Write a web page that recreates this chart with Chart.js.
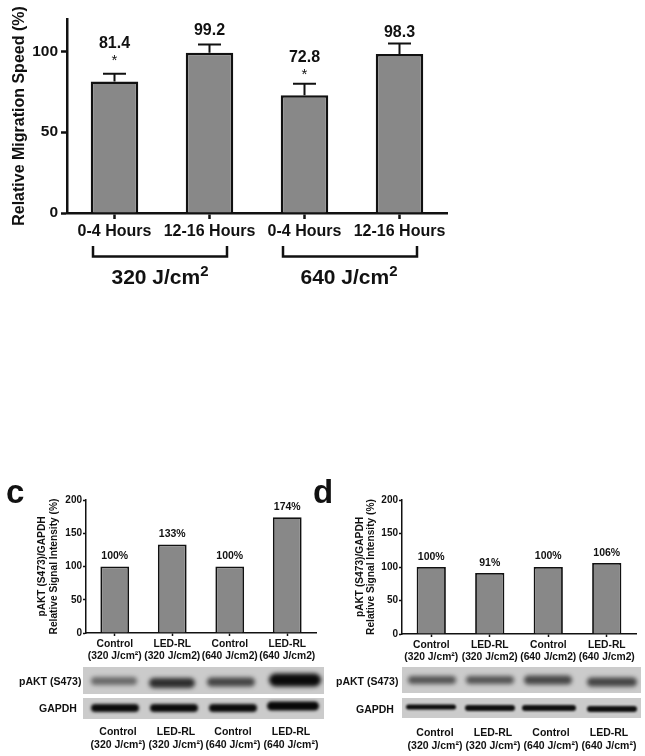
<!DOCTYPE html>
<html>
<head>
<meta charset="utf-8">
<script src="https://cdn.jsdelivr.net/npm/chart.js@4"></script>
<style>
  html, body { margin: 0; padding: 0; background: #fff; }
  body { width: 645px; height: 756px; position: relative; overflow: hidden; font-family: "Liberation Sans", Arial, sans-serif; color: #111; }
  canvas { position: absolute; }
  .t { position: absolute; font-weight: bold; white-space: nowrap; line-height: 1; }
  .c { transform: translateX(-50%); text-align: center; }
  .group { font-size: 21px; top: 266px; }
  .group sup { font-size: 15px; line-height: 0; vertical-align: 8px; }
  .letter { font-size: 33px; top: 475px; }
  .blot { font-size: 10.5px; }
  .small { font-size: 10.5px; line-height: 12.5px; }
</style>
</head>
<body>
<canvas id="blots" width="645" height="756" style="left:0;top:0"></canvas>
<canvas id="migration" width="460" height="262" style="left:0;top:0"></canvas>
<canvas id="panelC" width="330" height="182" style="left:0;top:488px"></canvas>
<canvas id="panelD" width="310" height="182" style="left:335px;top:488px"></canvas>

<div class="t group c" style="left:160px">320 J/cm<sup>2</sup></div>
<div class="t group c" style="left:349px">640 J/cm<sup>2</sup></div>
<div class="t letter" style="left:6px">c</div>
<div class="t letter" style="left:313px">d</div>

<div class="t blot" style="left:19px;top:676px">pAKT (S473)</div>
<div class="t blot" style="left:39px;top:703px">GAPDH</div>
<div class="t blot" style="left:336px;top:676px">pAKT (S473)</div>
<div class="t blot" style="left:356px;top:704px">GAPDH</div>

<div class="t small c" style="left:118px;top:725px">Control<br>(320 J/cm²)</div>
<div class="t small c" style="left:176px;top:725px">LED-RL<br>(320 J/cm²)</div>
<div class="t small c" style="left:233px;top:725px">Control<br>(640 J/cm²)</div>
<div class="t small c" style="left:291px;top:725px">LED-RL<br>(640 J/cm²)</div>
<div class="t small c" style="left:435px;top:726px">Control<br>(320 J/cm²)</div>
<div class="t small c" style="left:493px;top:726px">LED-RL<br>(320 J/cm²)</div>
<div class="t small c" style="left:551px;top:726px">Control<br>(640 J/cm²)</div>
<div class="t small c" style="left:609px;top:726px">LED-RL<br>(640 J/cm²)</div>

<script>
// top chart data
const migrationLabels = ['0-4 Hours', '12-16 Hours', '0-4 Hours', '12-16 Hours'];
const migrationValues = [81.4, 99.2, 72.8, 98.3];
const migrationUpper = [86.2, 104.2, 80, 104.8];
const migrationText = ['81.4', '99.2', '72.8', '98.3'];
const migrationStars = [true, false, true, false];

// blot charts data
const panelCLabels = [['Control', '(320 J/cm²)'], ['LED-RL', '(320 J/cm2)'], ['Control', '(640 J/cm2)'], ['LED-RL', '(640 J/cm2)']];
const panelDLabels = panelCLabels;
const panelCValues = [100, 133, 100, 174];
const panelDValues = [100, 91, 100, 106];
const panelCText = ['100%', '133%', '100%', '174%'];
const panelDText = ['100%', '91%', '100%', '106%'];

const GRAY = '#888888';
const INK = '#111111';

// whiskers, value labels, asterisks and the group brackets
const barNotes = {
  id: 'barNotes',
  afterDatasetsDraw(chart, args, opts) {
    const ctx = chart.ctx;
    const x = chart.scales.x;
    const y = chart.scales.y;
    ctx.save();
    ctx.strokeStyle = INK;
    ctx.fillStyle = INK;
    ctx.textAlign = 'center';
    ctx.textBaseline = 'middle';
    opts.text.forEach((txt, i) => {
      const px = x.getPixelForValue(i);
      let top = y.getPixelForValue(chart.data.datasets[0].data[i]);
      if (opts.upper) {
        const cap = y.getPixelForValue(opts.upper[i]);
        ctx.lineWidth = 2;
        ctx.beginPath();
        ctx.moveTo(px, top);
        ctx.lineTo(px, cap);
        ctx.moveTo(px - opts.capHalf, cap);
        ctx.lineTo(px + opts.capHalf, cap);
        ctx.stroke();
        top = cap;
      }
      ctx.font = opts.font;
      ctx.fillText(txt, px, top - opts.gap[i]);
      if (opts.stars && opts.stars[i]) {
        ctx.font = '15px "Liberation Sans"';
        ctx.fillText('*', px, top - opts.gap[i] + 17);
      }
    });
    if (opts.brackets) {
      ctx.lineWidth = 2.5;
      opts.brackets.forEach(b => {
        const x0 = x.getPixelForValue(b[0]) - 21.5;
        const x1 = x.getPixelForValue(b[1]) + 17.5;
        ctx.beginPath();
        ctx.moveTo(x0, 246);
        ctx.lineTo(x0, 256.5);
        ctx.lineTo(x1, 256.5);
        ctx.lineTo(x1, 246);
        ctx.stroke();
      });
    }
    ctx.restore();
  }
};

function makeChart(id, cfg) {
  return new Chart(document.getElementById(id), {
    type: 'bar',
    data: {
      labels: cfg.labels,
      datasets: [{
        data: cfg.values,
        backgroundColor: GRAY,
        borderColor: INK,
        borderWidth: cfg.barBorder,
        barPercentage: 1,
        categoryPercentage: 0.5
      }]
    },
    options: {
      responsive: false,
      animation: false,
      layout: { padding: cfg.padding },
      plugins: {
        legend: { display: false },
        tooltip: { enabled: false },
        barNotes: cfg.notes
      },
      scales: {
        x: {
          afterFit: s => { s.height = cfg.xHeight; },
          border: { color: INK, width: cfg.axisWidth },
          grid: { offset: false, drawOnChartArea: false, tickLength: cfg.tickLength, tickColor: INK, tickWidth: cfg.axisWidth },
          ticks: { color: INK, font: cfg.xFont, padding: cfg.xPad, maxRotation: 0, autoSkip: false }
        },
        y: {
          min: 0,
          max: cfg.max,
          afterFit: s => { s.width = cfg.yWidth; },
          border: { color: INK, width: cfg.axisWidth },
          grid: { drawOnChartArea: false, tickLength: cfg.tickLength, tickColor: INK, tickWidth: cfg.axisWidth },
          ticks: { color: INK, font: cfg.yFont, padding: cfg.yPad, stepSize: 50, includeBounds: false },
          title: { display: true, text: cfg.title, color: INK, font: cfg.titleFont, padding: cfg.titlePad }
        }
      }
    },
    plugins: [barNotes]
  });
}

makeChart('migration', {
  labels: migrationLabels,
  values: migrationValues,
  max: 120,
  title: 'Relative Migration Speed (%)',
  titleFont: { family: 'Liberation Sans', size: 16, weight: 'bold' },
  titlePad: { top: 10, bottom: 0 },
  xFont: { family: 'Liberation Sans', size: 16, weight: 'bold' },
  yFont: { family: 'Liberation Sans', size: 15.5, weight: 'bold' },
  xPad: 3,
  yPad: 3,
  xHeight: 49,
  yWidth: 67,
  padding: { left: 0, top: 19, right: 13, bottom: 0 },
  barBorder: 2.5,
  axisWidth: 2.5,
  tickLength: 6,
  notes: {
    text: migrationText,
    upper: migrationUpper,
    stars: migrationStars,
    capHalf: 11.5,
    font: 'bold 16px "Liberation Sans"',
    gap: [30, 14, 26, 11],
    brackets: [[0, 1], [2, 3]]
  }
});

const smallBold = { family: 'Liberation Sans', size: 10.3, weight: 'bold', lineHeight: 1.18 };
const blotTitle = ['pAKT (S473)/GAPDH', 'Relative Signal Intensity (%)'];

makeChart('panelC', {
  labels: panelCLabels,
  values: panelCValues,
  max: 200,
  title: blotTitle,
  titleFont: { family: 'Liberation Sans', size: 10.2, weight: 'bold', lineHeight: 1.1 },
  titlePad: { top: 37, bottom: 0 },
  xFont: smallBold,
  yFont: { family: 'Liberation Sans', size: 10, weight: 'bold' },
  xPad: 2,
  yPad: 1,
  xHeight: 37,
  yWidth: 86,
  padding: { left: 0, top: 12, right: 14, bottom: 0 },
  barBorder: 1.8,
  axisWidth: 1.5,
  tickLength: 3,
  notes: { text: panelCText, font: 'bold 10.5px "Liberation Sans"', gap: [10, 10, 10, 10] }
});

makeChart('panelD', {
  labels: panelDLabels,
  values: panelDValues,
  max: 200,
  title: blotTitle,
  titleFont: { family: 'Liberation Sans', size: 10.2, weight: 'bold', lineHeight: 1.1 },
  titlePad: { top: 19.5, bottom: 0 },
  xFont: smallBold,
  yFont: { family: 'Liberation Sans', size: 10, weight: 'bold' },
  xPad: 2,
  yPad: 1,
  xHeight: 36,
  yWidth: 67,
  padding: { left: 0, top: 12, right: 9, bottom: 0 },
  barBorder: 1.8,
  axisWidth: 1.5,
  tickLength: 3,
  notes: { text: panelDText, font: 'bold 10.5px "Liberation Sans"', gap: [10, 10, 11, 10] }
});

// western blot strips, only a picture in the figure: plain canvas, no values behind it
const blots = document.getElementById('blots').getContext('2d');
function strip(x, y, w, h, bands) {
  blots.fillStyle = '#cbcbcb';
  blots.fillRect(x, y, w, h);
  blots.save();
  blots.beginPath();
  blots.rect(x, y, w, h);
  blots.clip();
  bands.forEach(b => {
    blots.filter = 'blur(' + b[4] + 'px)';
    blots.fillStyle = b[5];
    blots.beginPath();
    blots.roundRect(b[0] - b[2], b[1] - b[3], b[2] * 2, b[3] * 2, b[3]);
    blots.fill();
  });
  blots.restore();
  blots.filter = 'none';
}
strip(83, 667, 241, 27, [
  [114, 681, 23, 4, 2, '#6a6a6a'],
  [172, 683, 23, 5, 2, '#2e2e2e'],
  [231, 682, 24, 4.5, 2, '#454545'],
  [295, 680, 26, 6.5, 2, '#0a0a0a']
]);
strip(83, 698, 241, 21, [
  [115, 708, 24, 4, 1.6, '#0c0c0c'],
  [174, 708, 24, 4, 1.6, '#0c0c0c'],
  [233, 708, 24, 4, 1.6, '#0c0c0c'],
  [293, 706, 26, 4.5, 1.6, '#080808']
]);
strip(402, 667, 239, 26, [
  [432, 680, 24, 4, 2, '#555'],
  [490, 680, 24, 4, 2, '#555'],
  [548, 680, 24, 4.5, 2, '#474747'],
  [612, 682, 25, 4.5, 2, '#454545']
]);
strip(402, 698, 239, 20, [
  [431, 707, 25, 2.5, 1.1, '#0a0a0a'],
  [490, 708, 25, 3, 1.1, '#0f0f0f'],
  [549, 708, 27, 3, 1.1, '#0f0f0f'],
  [612, 709, 25, 3, 1.1, '#0f0f0f']
]);
</script>
</body>
</html>
